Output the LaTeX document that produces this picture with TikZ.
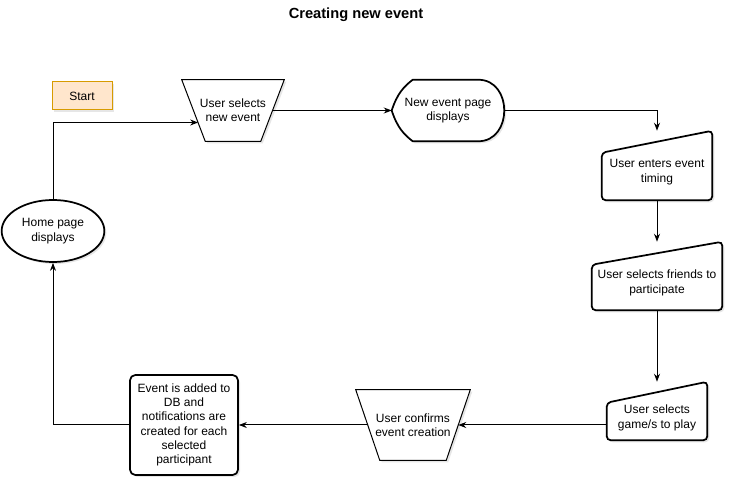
\documentclass[tikz,border=0pt]{standalone}
\usepackage{fontspec}
\setmainfont{Liberation Sans}
\usetikzlibrary{shapes.geometric,arrows.meta,positioning,calc,shadows,backgrounds}

\definecolor{startfill}{HTML}{FFE6CC}
\definecolor{startdraw}{HTML}{D79B00}

\begin{document}
\begin{tikzpicture}[x=0.75pt,y=-0.75pt,>={Stealth[length=6pt,width=4.5pt]},
	font=\fontsize{9}{10.7}\selectfont,
	every node/.style={align=center},
	soft shadow/.style={drop shadow={opacity=0.2,shadow xshift=1.5pt,shadow yshift=-1.5pt}},
	thick line/.style={draw,line width=1.3pt,fill=white,soft shadow},
	thin line/.style={draw,line width=0.75pt,fill=white,soft shadow},
	frame/.style={rectangle,inner sep=0pt},
	flow/.style={->,line width=0.75pt},
]
	\useasboundingbox (0,0) rectangle (733,488);

	% title and start
	\node (title) at (356,15) {\fontsize{11}{13}\selectfont\bfseries Creating new event};
	\node (start) [rectangle,draw=startdraw,fill=startfill,line width=0.75pt,soft shadow,minimum width=45pt,minimum height=21pt] at (82,96) {Start};

	% create the nodes
	\node (selnew) [frame,minimum width=76.5pt,minimum height=45.75pt,label={center:User selects\\new event}] at (233,110.5) {};
	\node (newpage) [frame,minimum width=84pt,minimum height=45.75pt,label={center:New event page\\displays}] at (448,110.5) {};
	\node (timing) [frame,minimum width=82.5pt,minimum height=51.75pt,label={[yshift=-4.9pt]center:User enters event\\timing}] at (657,165.5) {};
	\node (friends) [frame,minimum width=97.5pt,minimum height=51pt,label={[yshift=-5.2pt]center:User selects friends to\\participate}] at (657,276) {};
	\node (game) [frame,minimum width=75pt,minimum height=43.5pt,label={[yshift=-5.2pt]center:User selects\\game/s to play}] at (657,411) {};
	\node (confirm) [frame,minimum width=85.5pt,minimum height=52.5pt,label={center:User confirms\\event creation}] at (413,425) {};
	\node (added) [rectangle,rounded corners=4pt,thick line,minimum width=81pt,minimum height=75pt,inner sep=0pt] at (184,425) {Event is added to\\DB and\\notifications are\\created for each\\selected\\participant};
	\node (home) [ellipse,thick line,minimum width=77pt,minimum height=46.5pt,inner sep=0pt] at (53,231) {Home page\\displays};

	% outlines of the drawn shapes
	\begin{scope}[on background layer]
		\draw[thin line] (selnew.north west) -- (selnew.north east) -- ([xshift=-17.6pt]selnew.south east) -- ([xshift=17.6pt]selnew.south west) -- cycle;
		\draw[thin line] (confirm.north west) -- (confirm.north east) -- ([xshift=-18pt]confirm.south east) -- ([xshift=18pt]confirm.south west) -- cycle;
		\draw[thick line] (newpage.west) .. controls ([xshift=4pt,yshift=-10.5pt]newpage.north west) and ([xshift=9.2pt,yshift=-5pt]newpage.north west) .. ([xshift=15.75pt]newpage.north west)
			-- ([xshift=-19.5pt]newpage.north east) .. controls ([xshift=6.5pt]newpage.north east) and ([xshift=6.5pt]newpage.south east) .. ([xshift=-19.5pt]newpage.south east)
			-- ([xshift=15.75pt]newpage.south west) .. controls ([xshift=9.2pt,yshift=5pt]newpage.south west) and ([xshift=4pt,yshift=10.5pt]newpage.south west) .. (newpage.west) -- cycle;
		\draw[thick line,rounded corners=3pt] ([yshift=-16.5pt]timing.north west) -- (timing.north east) -- (timing.south east) -- (timing.south west) -- cycle;
		\draw[thick line,rounded corners=3pt] ([yshift=-17.25pt]friends.north west) -- (friends.north east) -- (friends.south east) -- (friends.south west) -- cycle;
		\draw[thick line,rounded corners=3pt] ([yshift=-15.75pt]game.north west) -- (game.north east) -- (game.south east) -- (game.south west) -- cycle;
	\end{scope}

	% connect the nodes
	\draw[flow] (home.north) |- ([xshift=12.3pt,yshift=-9pt]selnew.west);
	\draw[flow] ([xshift=-8.8pt]selnew.east) -- (newpage.west);
	\draw[flow] (newpage.east) -| (timing.north);
	\draw[flow] (timing.south) -- (friends.north);
	\draw[flow] (friends.south) -- (game.north);
	\draw[flow] (game.west |- confirm) -- ([xshift=-9pt]confirm.east);
	\draw[flow] ([xshift=9pt]confirm.west) -- (added);
	\draw[flow] (added.west) -| (home.south);
\end{tikzpicture}
\end{document}
